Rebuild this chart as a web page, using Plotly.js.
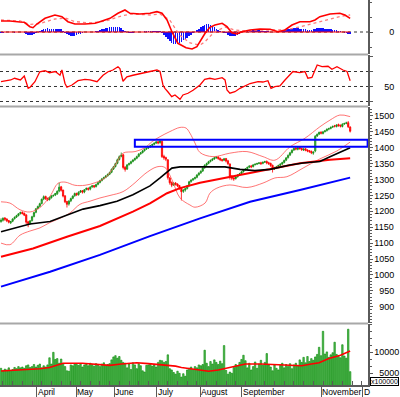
<!DOCTYPE html>
<html><head><meta charset="utf-8">
<script src="https://cdn.plot.ly/plotly-3.0.1.min.js"></script>
<style>html,body{margin:0;padding:0;background:#fff;}#chart{width:400px;height:397px;}</style>
</head><body><div id="chart"></div>
<script>
// ---- daily OHLC (index = trading day) ----
const openP = [1168,1172,1179,1176,1171,1164,1169,1177,1182,1187,1193,1197,1194,1189,1167,1163,1171,1184,1197,1209,
1216,1225,1239,1247,1241,1237,1243,1249,1251,1255,1264,1277,1267,1249,1231,1223,1233,1241,1249,1257,
1253,1261,1265,1261,1269,1273,1270,1277,1281,1278,1285,1291,1297,1303,1307,1312,1317,1323,1333,1341,
1351,1363,1373,1378,1339,1333,1347,1351,1357,1362,1367,1373,1381,1385,1391,1396,1399,1403,1407,1411,
1415,1419,1416,1420,1373,1369,1362,1305,1291,1283,1289,1286,1281,1273,1263,1267,1272,1281,1294,1299,
1303,1307,1315,1321,1327,1337,1346,1351,1357,1361,1365,1369,1371,1367,1363,1361,1366,1359,1349,1311,
1305,1303,1309,1315,1319,1325,1331,1334,1339,1343,1341,1347,1349,1351,1353,1351,1355,1357,1353,1351,
1345,1334,1336,1341,1345,1349,1354,1361,1369,1377,1385,1393,1399,1395,1401,1398,1393,1397,1393,1391,
1389,1383,1390,1437,1443,1449,1445,1451,1454,1459,1461,1465,1469,1467,1473,1471,1467,1475,1477,1479,1465];
const highP = [1178,1181,1182,1178,1173,1170,1178,1184,1189,1194,1199,1200,1196,1190,1170,1172,1186,1198,1210,1218,
1227,1240,1250,1249,1243,1246,1251,1253,1258,1266,1290,1280,1268,1250,1233,1235,1243,1250,1259,1258,
1263,1267,1267,1270,1275,1275,1279,1283,1283,1287,1293,1299,1305,1309,1314,1319,1325,1335,1343,1353,
1366,1376,1385,1380,1342,1349,1353,1359,1364,1369,1375,1383,1387,1393,1398,1401,1405,1409,1413,1417,
1421,1422,1425,1424,1378,1372,1364,1308,1294,1292,1292,1288,1283,1275,1270,1274,1283,1296,1301,1305,
1309,1317,1323,1329,1339,1348,1353,1359,1363,1367,1371,1374,1373,1369,1365,1368,1368,1362,1351,1314,
1308,1311,1317,1321,1327,1333,1336,1341,1345,1346,1349,1351,1353,1355,1356,1357,1359,1360,1356,1353,
1347,1340,1343,1347,1351,1356,1363,1371,1379,1387,1395,1401,1402,1403,1404,1400,1398,1399,1395,1393,
1391,1389,1440,1445,1451,1452,1453,1456,1461,1463,1467,1470,1472,1474,1476,1473,1477,1479,1482,1484,1468];
const lowP = [1164,1168,1170,1166,1162,1160,1166,1174,1179,1184,1190,1190,1185,1160,1150,1158,1168,1181,1194,1206,
1213,1222,1235,1236,1232,1234,1240,1246,1248,1252,1260,1262,1244,1226,1212,1218,1229,1238,1246,1248,
1249,1258,1256,1257,1266,1265,1266,1274,1273,1275,1282,1288,1294,1300,1304,1309,1314,1320,1330,1338,
1348,1360,1370,1332,1325,1330,1344,1348,1354,1359,1364,1370,1378,1382,1388,1393,1396,1400,1404,1408,
1412,1411,1413,1368,1362,1358,1300,1284,1276,1280,1281,1276,1268,1234,1258,1262,1269,1278,1290,1296,
1300,1304,1312,1318,1324,1334,1342,1348,1354,1358,1362,1365,1362,1358,1356,1358,1354,1346,1300,1298,
1296,1300,1306,1312,1316,1322,1328,1331,1336,1336,1338,1344,1346,1348,1346,1348,1352,1348,1346,1340,
1322,1330,1333,1338,1342,1346,1351,1358,1366,1374,1382,1390,1392,1392,1394,1390,1390,1389,1386,1384,
1380,1378,1386,1434,1440,1442,1442,1448,1451,1455,1458,1462,1464,1464,1466,1464,1464,1472,1474,1462,1448];
const closeP = [1172,1178,1175,1170,1166,1168,1176,1181,1186,1192,1196,1193,1188,1166,1162,1170,1183,1196,1208,1215,
1224,1238,1246,1240,1236,1244,1248,1250,1256,1263,1276,1266,1248,1230,1222,1232,1240,1248,1256,1252,
1260,1264,1260,1268,1272,1269,1276,1280,1277,1284,1290,1296,1302,1306,1311,1316,1322,1332,1340,1350,
1362,1372,1377,1338,1332,1346,1350,1356,1361,1366,1372,1380,1384,1390,1395,1398,1402,1406,1410,1414,
1418,1415,1421,1372,1368,1364,1306,1290,1282,1288,1285,1280,1272,1262,1266,1271,1280,1293,1298,1302,
1306,1314,1320,1326,1336,1345,1350,1356,1360,1364,1368,1370,1366,1362,1360,1365,1358,1350,1310,1304,
1302,1308,1314,1318,1324,1330,1333,1338,1342,1340,1346,1348,1350,1352,1350,1354,1356,1352,1350,1344,
1335,1337,1340,1344,1348,1353,1360,1368,1376,1384,1392,1398,1396,1400,1397,1394,1396,1392,1390,1388,
1384,1386,1436,1442,1448,1446,1450,1453,1458,1460,1464,1467,1468,1472,1470,1468,1474,1476,1478,1466,1452];
// volume (x100000)
const volume = [6200,5600,6000,5800,6300,5700,5900,6400,6100,6600,6300,6500,6200,
6800,7000,6400,6600,7100,
6500,6900,7200,6300,6800,6500,7000,
8700,7200,10000,8300,8500,7400,8400,
7300,6600,5600,5500,7000,6800,7300,
7100,6900,7300,6500,7000,7200,6800,7400,7100,6700,7300,7000,6600,7200,7500,6900,7100,7300,
8200,8900,9200,8600,9000,8100,7600,
7400,6300,7200,5900,7500,7000,6100,7300,6800,5600,5300,6900,7000,
7200,6700,7000,6500,7600,8100,8000,7600,7800,
9400,
6100,5800,5200,4800,5500,5000,4100,4900,4300,5800,
6200,6500,5900,6600,6300,7000,6800,7100,
10500,
7400,6600,7800,7200,8200,7600,7100,7900,7300,
11600,
5700,4800,5300,5000,
6400,7100,6800,7600,8300,
9300,
8000,6300,7400,5800,6600,7700,6200,
7200,8100,6900,7600,9700,7000,
6500,5600,7000,6200,5800,
6900,7400,6300,7100,6600,7300,6100,7000,7400,6800,
8200,7600,8800,7500,9000,7800,8500,8100,8900,9500,
11200,9200,15000,
9600,10100,8800,9400,9900,
12400,9500,9000,8700,11800,9100,8600,15500,5400];
// MACD histogram (daily)
const macdHist = [-1,-0.5,
0.3,0.5,0.3,0,-0.3,
-0.5,-0.3,0,0.3,0,-0.5,
-1.5,-2.5,-3,-3,-2.2,-1.2,
0.5,1.5,2.3,3,3.5,3.7,3.5,3.2,3,2.8,2.9,3.2,2.6,1.2,
-0.8,-2.2,-3.2,-3.8,-4,-3.6,-3,-2.2,-1.5,-0.8,
-0.3,0,0.2,0.3,0.3,0.5,0.8,
1.5,2.2,2.8,3.3,3.8,4.3,4.6,5,5.3,5.2,5,4.6,4,2.2,
0.8,0,-0.6,-1,-0.8,-0.4,0,
0.2,0.4,0.5,0.6,0.8,1,1.2,1.2,1.1,1,0.8,0.6,
-1,-2.5,-4.5,-7,-9,-10.5,-11.5,-12,-11.5,-10.5,-9.5,-8.2,-7,
-5.5,-4,-2.5,-1,0.5,
2,3.5,5,6.5,7.5,8,7.8,7,6,4.8,
3.5,2.2,1,0,-0.5,-1.2,
-2.5,-3.5,-4,-4.2,-3.8,-3,-2,-1,
0,0.5,1,1.3,1.5,1.7,1.8,1.8,1.6,1.5,1.3,1.2,1,0.6,0.2,-0.2,-0.4,-0.3,0,0.5,1,
1.8,2.5,3,3.5,3.8,4,4,3.8,3.5,3.2,3,2.7,2.5,
2.3,2.5,3,3.5,3.8,4,4,3.8,3.5,3.2,3,2.8,2.5,2.2,1.8,1.2,
0.6,0,-0.6,-1.2,-1.8,-2.2];
// MACD & signal lines (read at points)
const macdX = [0,4.6,9.8,12,14.9,16.5,18.5,22.7,27.8,31.4,34.5,38.1,43.3,48.5,51,56.2,60.3,63.9,66.5,71.6,76.8,80.4,83,85.6,88.1,91.2,95.4,98.5,101,102.6,105.2,107.7,110.3,114,116.5,119,121.6,124.2,128.4,133.5,138.7,142.8,146.4,150,154.1,159.3,161.9,164.4,169.6,174.7,177.3,180];
const macdLine = [11,11,10,9.7,5.3,4.3,8,13.7,17,15.3,10.3,8,8,8.7,10.3,13.7,18.7,22,18.7,18,18.7,20.3,18.7,12,0.3,-11.3,-15.7,-17,-14.7,-9.7,-1.3,4.7,7,8.7,5.3,-0.7,-2,0.3,2,3,2.7,0.3,2,7,10.3,10.3,12,15.3,18,18.7,17,13.7];
const signalX = [0,9.8,14.9,20,27.8,33,38,46,54,62,67,77,82,87,92,97.5,102.6,105,110,115.5,120.5,126,133.5,146,154,162,170,176,180];
const signalLine = [12,11,7.5,8.5,13,14,10.5,9,11,16,18,17,18,12,-3,-11,-13,-10,0,5,2,1,2,2,5,9,13,16,17];
// RSI
const rsiX = [0,5,7,10,12,14,15,17.5,20,22.7,25,28,30.4,31.4,33,34,36.6,39.7,43.3,45.9,49.5,52.6,55.2,57.7,60.3,61.3,62.9,64.9,68,71.6,76.8,80.4,82,83.5,84.5,86,88,89.7,92.3,93.8,96.4,99,102.6,105,107.7,110.3,114,115.5,116.5,118,120.6,123.2,125.8,128.4,132.5,135,137.6,139.2,141.2,143.8,146.4,149,150.5,154,156.7,158.2,160.3,161.9,163,165.5,168.6,170.6,173.2,176.3,178.4,180];
const rsiVal = [56.4,58.7,61,58.7,64,47.6,49,56.4,69.7,71,68.4,70,65,72,54,49,52,57.7,59.6,58.7,56.4,65,69.7,72,76.4,74,57,63,65,66.7,70,72,70,52,47.6,43,36.4,38.7,33,38.7,41,45,52,59.6,61,59.6,61.8,58.7,45.3,41,43,47.6,50.7,54,56.4,56,57.7,47.6,49.7,50.7,58.7,65,70,68.4,70,61,62,72,78.7,76.4,77,73,76.4,72,70,57.7];
const rsiLevels = [30, 50, 70];
// moving averages & Bollinger bands (read at points)
const ma50X = [0,14.9,25.3,34,42.3,51,59.8,68,76.8,82,85.6,88.1,92.3,102.6,115.5,123.2,130.9,138.7,149,155.7,164.4,169.6,180];
const ma50 = [1136,1160,1168,1188,1207,1218,1232,1252,1280,1305,1322,1336,1340,1341,1340,1332,1328,1332,1346,1352,1357,1372,1400];
const ma100X = [0,16.5,34,51,68,76.8,85.6,92.3,102.6,128.4,154.1,169.6,180];
const ma100 = [1057,1083,1120,1154,1199,1225,1257,1273,1290,1320,1351,1362,1367];
const ma200X = [0,25.3,51,76.8,102.6,128.4,154.1,180];
const ma200 = [963,1010,1063,1122,1178,1230,1267,1306];
const bbUpX = [0,4.6,9.8,14.9,20.1,25.3,29.4,33,38.1,43.3,48.5,53.6,58.8,62.9,69.1,74.2,77.8,82,87.1,92.3,95.4,97.4,100,102.6,109.3,118,126.8,135.1,141.2,149,156.7,164.4,169.6,174.7,180];
const bbUp = [1230,1226,1205,1198,1212,1248,1288,1292,1282,1282,1290,1305,1345,1383,1388,1400,1419,1435,1451,1464,1462,1446,1415,1385,1372,1383,1388,1372,1361,1403,1430,1466,1487,1503,1498];
const bbLoX = [0,4.6,9.8,14.9,20.1,25.3,30.4,35.6,40.7,45.9,51,56.2,62.9,69.1,74.2,80.4,84.5,88.1,92.3,97.4,100,105.2,107.7,111.3,118,126.8,135.1,141.2,147.4,155.7,164.4,173.2,180];
const bbLo = [1100,1095,1125,1138,1148,1165,1178,1195,1222,1232,1242,1250,1262,1290,1318,1340,1338,1300,1242,1220,1213,1226,1257,1273,1283,1275,1289,1305,1309,1336,1365,1390,1418];
const volMaX = [0,10,20,25,29,32,42,50,56,62,70,76,84,90,93,100,107,112,117,122,126,134,139,145,155,160,164,169,175,180];
const volMa = [5550,5800,6100,6400,7000,7400,7400,7200,6900,7200,7500,7300,7000,6700,6400,5900,5500,5800,6300,6800,7200,7200,7100,6900,6800,7200,7500,8500,9300,10300];
// resistance zone
const zoneStart = 69, zoneEnd = 189, zoneLow = 1403, zoneHigh = 1425;
// axis ticks
const monthTicks = [18.5,38.7,58.3,80.4,102.6,124.2,165,186.6];
const monthNames = ['April','May','June','July','August','September','November','D'];
const priceTicks = [900,950,1000,1050,1100,1150,1200,1250,1300,1350,1400,1450,1500];
const volTicks = [5000,10000];

const idx = closeP.map((_, i) => i);
const N = idx.length;
const FS = '\u2007';
const pad = (s, n) => FS.repeat(Math.max(0, n - String(s).length)) + s;
const FONT = 'Liberation Sans, Arial, sans-serif';
const AX = '#5a5a5a';

const traces = [
  {type:'bar', x:idx, y:macdHist, yaxis:'y', marker:{color:'#1010ff', line:{width:0}}, width:0.8, hoverinfo:'skip'},
  {type:'scatter', mode:'lines', x:[idx[0], idx[N-1]], y:[0,0], yaxis:'y', line:{color:'#ff0000', width:1}},
  {type:'scatter', mode:'lines', x:signalX, y:signalLine, yaxis:'y', line:{color:'#ff7a7a', width:1.3, dash:'dot'}},
  {type:'scatter', mode:'lines', x:macdX, y:macdLine, yaxis:'y', line:{color:'#ff0000', width:1.6}},
  {type:'scatter', mode:'lines', x:rsiX, y:rsiVal, yaxis:'y2', line:{color:'#ff0000', width:1.3}},
  {type:'scatter', mode:'lines', x:bbUpX, y:bbUp, yaxis:'y3', line:{color:'#ff5050', width:0.8, shape:'spline'}},
  {type:'scatter', mode:'lines', x:bbLoX, y:bbLo, yaxis:'y3', line:{color:'#ff5050', width:0.8, shape:'spline'}},
  {type:'scatter', mode:'lines', x:ma200X, y:ma200, yaxis:'y3', line:{color:'#0000ff', width:2}},
  {type:'scatter', mode:'lines', x:ma100X, y:ma100, yaxis:'y3', line:{color:'#ff0000', width:2}},
  {type:'scatter', mode:'lines', x:ma50X, y:ma50, yaxis:'y3', line:{color:'#000000', width:1.6}},
  {type:'candlestick', x:idx, open:openP, high:highP, low:lowP, close:closeP, yaxis:'y3', whiskerwidth:0,
   increasing:{line:{color:'#138a13', width:0.8}, fillcolor:'#4cc24c'},
   decreasing:{line:{color:'#ff0000', width:0.8}, fillcolor:'#ff0000'}, hoverinfo:'skip'},
  {type:'bar', x:idx, y:volume, yaxis:'y4', marker:{color:'#58b858', line:{color:'#008a00', width:0.6}}, width:0.75, hoverinfo:'skip'},
  {type:'scatter', mode:'lines', x:volMaX, y:volMa, yaxis:'y4', line:{color:'#ff0000', width:1.6}}
];

const yCommon = {side:'right', anchor:'x', showgrid:false, zeroline:false, showline:true, linecolor:AX, linewidth:1.5,
  ticks:'outside', ticklen:3, tickcolor:AX, tickfont:{size:9, family:FONT, color:'#000'}, fixedrange:true};

const dom = {macd:[0.8597,1], rsi:[0.7247,0.8571], main:[0.1610,0.7221], vol:[0,0.1584]};

const layout = {
  width:400, height:397, margin:{l:0, r:32, t:0, b:12},
  paper_bgcolor:'#fff', plot_bgcolor:'#fff', showlegend:false, bargap:0, boxgap:0.1,
  font:{family:FONT, size:9, color:'#000'},
  xaxis:{domain:[0,1], anchor:'y4', range:[-0.515,189.2], showgrid:false, zeroline:false, showline:true,
    linecolor:AX, linewidth:1.5, tickmode:'array', tickvals:monthTicks, showticklabels:false,
    ticks:'outside', ticklen:12, tickcolor:AX,
    minor:{tickmode:'linear', tick0:1, dtick:5, ticks:'inside', ticklen:4, tickcolor:AX, showgrid:false},
    rangeslider:{visible:false}, fixedrange:true},
  yaxis: Object.assign({}, yCommon, {domain:dom.macd, range:[-22,32], tickmode:'array', tickvals:[0], ticktext:[pad('0',4)],
    minor:{tickmode:'linear', tick0:0, dtick:15, ticks:'outside', ticklen:2, tickcolor:AX}}),
  yaxis2: Object.assign({}, yCommon, {domain:dom.rsi, range:[24,92], tickmode:'array', tickvals:[30,50,70,90], ticktext:['',pad('50',4),'','']}),
  yaxis3: Object.assign({}, yCommon, {domain:dom.main, range:[848.6,1528.3], tickmode:'array', tickvals:priceTicks,
    ticktext:priceTicks.map(v => pad(v,4)),
    minor:{tickmode:'linear', tick0:0, dtick:10, ticks:'outside', ticklen:2, tickcolor:AX}}),
  yaxis4: Object.assign({}, yCommon, {domain:dom.vol, range:[2217,16735], tickmode:'array', tickvals:volTicks,
    ticktext:volTicks.map(v => pad(v,5)),
    minor:{tickmode:'linear', tick0:0, dtick:5000/3, ticks:'outside', ticklen:2, tickcolor:AX}}),
  shapes: [
    {type:'line', xref:'paper', yref:'paper', x0:0, x1:1, y0:0.8584, y1:0.8584, line:{color:'#a8a8a8', width:2}},
    {type:'line', xref:'paper', yref:'paper', x0:0, x1:1, y0:0.7234, y1:0.7234, line:{color:'#a8a8a8', width:2}},
    {type:'line', xref:'paper', yref:'paper', x0:0, x1:1, y0:0.1597, y1:0.1597, line:{color:'#a8a8a8', width:2}},
    {type:'line', xref:'x domain', yref:'y', x0:0, x1:1, y0:0, y1:0, layer:'below', line:{color:'#333', width:1, dash:'dot'}}
  ].concat(rsiLevels.map(l => ({type:'line', xref:'x domain', yref:'y2', x0:0, x1:1, y0:l, y1:l, layer:'below',
      line:{color:'#333', width:1, dash:'dot'}})))
   .concat([{type:'rect', xref:'x', yref:'y3', x0:zoneStart, x1:zoneEnd, y0:zoneLow, y1:zoneHigh,
      line:{color:'#0000ff', width:2}, fillcolor:'rgba(0,0,0,0)', layer:'above'}]),
  annotations: monthTicks.map((t, k) => ({xref:'x', yref:'paper', x:t, y:-0.0182, xanchor:'left', yanchor:'middle',
      text:monthNames[k], showarrow:false, font:{size:8.5, family:FONT, color:'#000'}, borderpad:0}))
    .concat([{xref:'paper', yref:'paper', x:1.0054, y:0.0208, xanchor:'left', yanchor:'top', text:'x100000',
      showarrow:false, font:{size:7, family:FONT, color:'#000'}, bordercolor:'#000', borderwidth:1, borderpad:0, bgcolor:'#fff'}])
};

Plotly.newPlot('chart', traces, layout, {staticPlot:true, displayModeBar:false});
</script>
</body></html>
